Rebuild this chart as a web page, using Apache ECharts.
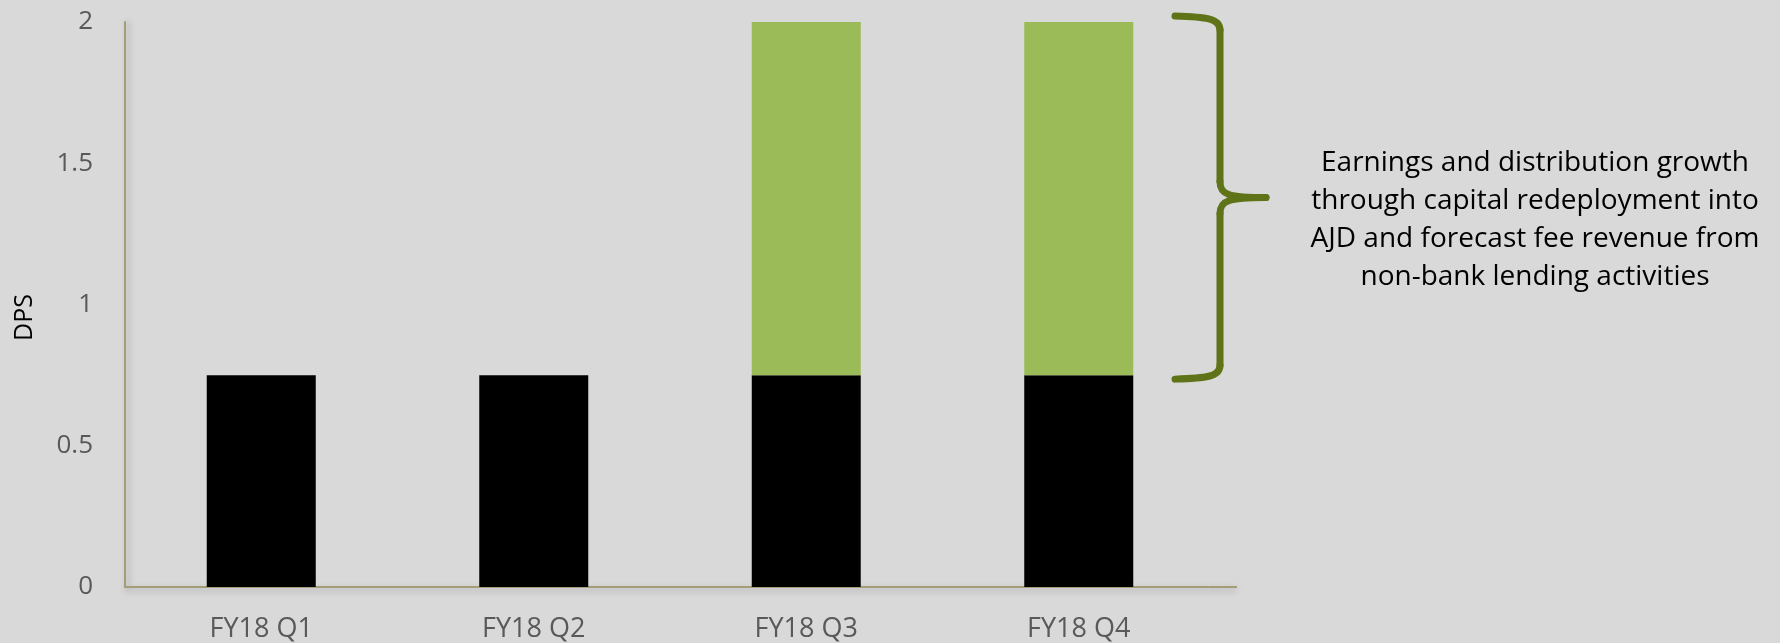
<!DOCTYPE html>
<html>
<head>
<meta charset="utf-8">
<script src="https://cdn.jsdelivr.net/npm/echarts@6/dist/echarts.min.js"></script>
<style>
html,body{margin:0;padding:0;background:#d9d9d9;}
#c{width:1780px;height:643px;}
</style>
</head>
<body>
<div id="c"></div>
<script>
const categories = ['FY18 Q1', 'FY18 Q2', 'FY18 Q3', 'FY18 Q4'];
const baseDps = [0.75, 0.75, 0.75, 0.75];
const growthDps = [0, 0, 1.25, 1.25];
const yTicks = { min: 0, max: 2, interval: 0.5 };
const noteLines = [
  'Earnings and distribution growth',
  'through capital redeployment into',
  'AJD and forecast fee revenue from',
  'non-bank lending activities'
];

const FONT = '"Open Sans", sans-serif';
const axisColor = '#a39e78';
const chart = echarts.init(document.getElementById('c'), null, { renderer: 'canvas' });

const option = {
  backgroundColor: '#d9d9d9',
  animation: false,
  grid: { left: 125, top: 22, width: 1090, height: 565, containLabel: false, outerBoundsMode: 'none' },
  xAxis: {
    type: 'category',
    data: categories,
    axisTick: { show: false },
    axisLine: { lineStyle: { color: axisColor, width: 2, shadowColor: 'rgba(0,0,0,0.25)', shadowBlur: 6, shadowOffsetY: 3 } },
    axisLabel: { color: '#595959', fontSize: 27, fontFamily: FONT, margin: 29 }
  },
  yAxis: {
    type: 'value',
    min: yTicks.min, max: yTicks.max, interval: yTicks.interval,
    splitLine: { show: false },
    axisTick: { show: false },
    axisLine: { show: true, lineStyle: { color: axisColor, width: 2, shadowColor: 'rgba(0,0,0,0.25)', shadowBlur: 6, shadowOffsetX: 3 } },
    axisLabel: { color: '#595959', fontSize: 26, fontFamily: FONT, margin: 32 },
    name: 'DPS',
    nameLocation: 'middle',
    nameGap: 88,
    nameRotate: 90,
    nameTextStyle: { color: '#000', fontSize: 25, fontFamily: FONT, padding: [0, 26, 0, 0] }
  },
  series: [
    {
      type: 'bar', stack: 'dps', data: baseDps, barWidth: '40%',
      itemStyle: { color: '#000000' }
    },
    {
      type: 'bar', stack: 'dps', data: growthDps, barWidth: '40%',
      itemStyle: { color: '#9bbb59' }
    }
  ]
};
chart.setOption(option);

// brace annotation anchored to the value scale
const yTop = chart.convertToPixel({ yAxisIndex: 0 }, yTicks.max) - 6;
const yBot = chart.convertToPixel({ yAxisIndex: 0 }, baseDps[2]) + 4;
const yMid = (yTop + yBot) / 2;
const xv = 1220, xl = 1175, xt = 1266;
const braceStyle = { stroke: '#5f7418', lineWidth: 7, fill: null, lineCap: 'round', lineJoin: 'round' };
const xEnd = chart.convertToPixel({ xAxisIndex: 0 }, categories[categories.length - 1]) + 1090 / 8;
const y0 = chart.convertToPixel({ yAxisIndex: 0 }, 0);

const brace = [
  { type: 'bezierCurve', shape: { x1: xl, y1: yTop, cpx1: xl + 30, cpy1: yTop + 1, cpx2: xv, cpy2: yTop + 2, x2: xv, y2: yTop + 14 } },
  { type: 'line', shape: { x1: xv, y1: yTop + 14, x2: xv, y2: yMid - 16 } },
  { type: 'bezierCurve', shape: { x1: xv, y1: yMid - 16, cpx1: xv, cpy1: yMid - 3, cpx2: xv + 8, cpy2: yMid, x2: xt, y2: yMid } },
  { type: 'bezierCurve', shape: { x1: xt, y1: yMid, cpx1: xv + 8, cpy1: yMid, cpx2: xv, cpy2: yMid + 3, x2: xv, y2: yMid + 16 } },
  { type: 'line', shape: { x1: xv, y1: yMid + 16, x2: xv, y2: yBot - 14 } },
  { type: 'bezierCurve', shape: { x1: xv, y1: yBot - 14, cpx1: xv, cpy1: yBot - 2, cpx2: xl + 30, cpy2: yBot - 1, x2: xl, y2: yBot } }
].map(g => Object.assign(g, { style: braceStyle, z: 10 }));

chart.setOption({
  graphic: brace.concat([
    { type: 'line', shape: { x1: xEnd, y1: y0, x2: xEnd + 22, y2: y0 },
      style: { stroke: axisColor, lineWidth: 2, shadowColor: 'rgba(0,0,0,0.25)', shadowBlur: 6, shadowOffsetY: 3 }, z: 5 },
    { type: 'text', x: 1535, y: yMid - 54, z: 10,
      style: { text: noteLines.join('\n'), fill: '#000', font: '28px "Open Sans", sans-serif',
               lineHeight: 38, align: 'center', verticalAlign: 'top' } }
  ])
});
</script>
</body>
</html>
